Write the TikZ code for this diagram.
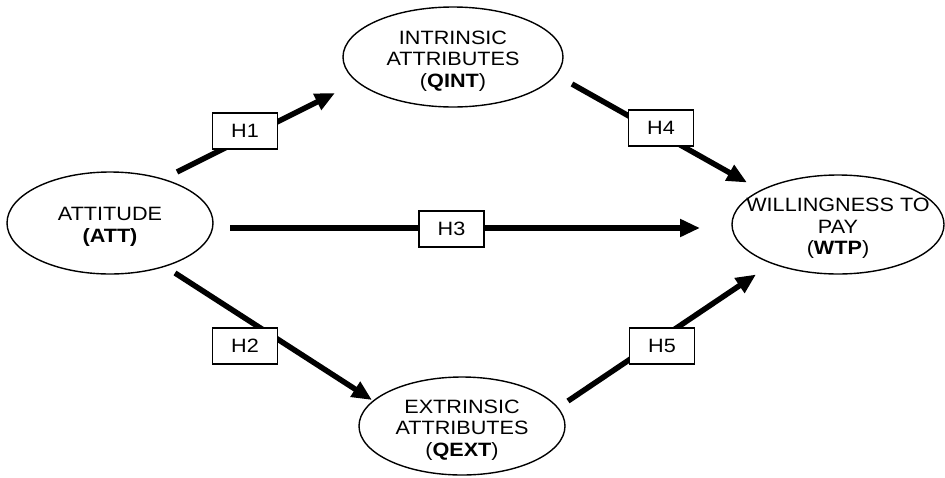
\documentclass[tikz,border=0pt]{standalone}
\usepackage{fontspec}
\setmainfont[FakeStretch=1.12]{Liberation Sans}
\usetikzlibrary{shapes.geometric,arrows.meta}
\begin{document}
\begin{tikzpicture}[x=1pt,y=-1pt,
  every node/.style={font=\fontsize{19.3}{21.5}\selectfont},
  ell/.style={ellipse, draw, line width=1.4pt, inner sep=0pt, outer sep=0pt},
  txt/.style={align=center, inner sep=0pt, yshift=-4pt},
  hbox/.style={draw, fill=white, line width=1.4pt, minimum width=65pt, minimum height=36pt, inner sep=0pt},
  arr/.style={line width=5.5pt, -{Triangle[length=20pt,width=17pt]}}
]
\useasboundingbox (0,0) rectangle (945,477);
\fill[white] (0,0) rectangle (945,477);
% constructs
\node[ell, minimum width=206pt, minimum height=102pt,
  label={[txt]center:{ATTITUDE\\\textbf{(ATT)}}}] (att) at (110,223) {};
\node[ell, minimum width=220pt, minimum height=100pt,
  label={[txt]center:{INTRINSIC\\ATTRIBUTES\\(\textbf{QINT})}}] (qint) at (453,57) {};
\node[ell, minimum width=212pt, minimum height=99pt,
  label={[txt]center:{WILLINGNESS TO\\PAY\\(\textbf{WTP})}}] (wtp) at (838,224.5) {};
\node[ell, minimum width=206pt, minimum height=98pt,
  label={[txt]center:{EXTRINSIC\\ATTRIBUTES\\(\textbf{QEXT})}}] (qext) at (462,426) {};
% paths
\draw[arr] ([shift={(67,-51)}]att.center) -- ([shift={(-118,36)}]qint.center);
\draw[arr] ([shift={(65,50)}]att.center) -- ([shift={(-90,-26)}]qext.center);
\draw[arr] ([shift={(120,5)}]att.center) -- ([shift={(-138,3.5)}]wtp.center);
\draw[arr] ([shift={(119,27)}]qint.center) -- ([shift={(-91,-42)}]wtp.center);
\draw[arr] ([shift={(106,-25)}]qext.center) -- ([shift={(-82,50)}]wtp.center);
% hypothesis labels
\node[hbox] (h1) at (245,131) {H1};
\node[hbox] (h2) at (245,346) {H2};
\node[hbox] (h3) at (451.5,229) {H3};
\node[hbox] (h4) at (661,128) {H4};
\node[hbox] (h5) at (662,346) {H5};
\end{tikzpicture}
\end{document}
